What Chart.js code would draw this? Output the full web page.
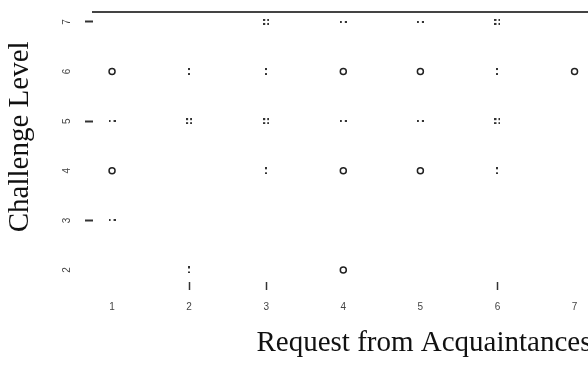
<!DOCTYPE html>
<html>
<head>
<meta charset="utf-8">
<script src="https://cdn.jsdelivr.net/npm/chart.js@4.4.0/dist/chart.umd.min.js"></script>
<style>
html, body { margin: 0; padding: 0; background: #fff; overflow: hidden; }
#wrap { width: 597px; height: 368px; }
</style>
</head>
<body>
<div id="wrap"><canvas id="chart"></canvas></div>
<script>
const requestLevels = [1, 2, 3, 4, 5, 6, 7];
const challengeLevels = [2, 3, 4, 5, 6, 7];
const xMarkedTicks = [2, 3, 6];
const yMarkedTicks = [3, 5, 7];

// single observation (ring)
const ringX = [1, 4, 5, 7, 1, 4, 5, 4];
const ringY = [6, 6, 6, 6, 4, 4, 4, 2];
// two dots stacked
const colonX = [2, 3, 6, 3, 6, 2];
const colonY = [6, 6, 6, 4, 4, 2];
// two dots side by side
const pairX = [4, 5, 1, 4, 5, 1];
const pairY = [7, 7, 5, 5, 5, 3];
// four dots
const quadX = [3, 6, 2, 3, 6];
const quadY = [7, 7, 5, 5, 5];

function toPoints(xs, ys) {
    return xs.map((x, i) => ({x: x, y: ys[i]}));
}

function dots(w, h, pts) {
    let c = document.createElement("canvas");
    c.width = w;
    c.height = h;
    let g = c.getContext("2d");
    g.fillStyle = "#333";
    for (let p of pts) {
        g.fillRect(p[0], p[1], 2, 2);
    }
    return c;
}

const colonGlyph = dots(2, 7, [[0, 0], [0, 5]]);
const pairGlyph = dots(7, 2, [[0, 0], [5, 0]]);
const quadGlyph = dots(6, 6, [[0, 0], [4, 0], [0, 4], [4, 4]]);

const xMin = 0.753, xMax = 7.22;
const yMin = 1.758, yMax = 7.2;

function marked(list) {
    return ctx => (ctx.tick && list.includes(ctx.tick.value)) ? "#333" : "rgba(0,0,0,0)";
}

const tickFont = {family: "'Liberation Sans', Arial, sans-serif", size: 10};
const titleFont = {family: "'Liberation Serif', 'Times New Roman', serif", size: 29};

const data = {
    datasets: [
        {
            data: toPoints(ringX, ringY),
            pointStyle: "circle",
            pointRadius: 3,
            pointBorderWidth: 1.5,
            borderColor: "#222",
            backgroundColor: "#fff"
        },
        {data: toPoints(colonX, colonY), pointStyle: colonGlyph, pointRadius: 3},
        {data: toPoints(pairX, pairY), pointStyle: pairGlyph, pointRadius: 3},
        {data: toPoints(quadX, quadY), pointStyle: quadGlyph, pointRadius: 3}
    ]
};

const config = {
    type: "scatter",
    data: data,
    options: {
        responsive: true,
        maintainAspectRatio: false,
        animation: false,
        layout: {padding: {top: 12, right: 0, bottom: 0, left: 0}},
        plugins: {legend: {display: false}, tooltip: {enabled: false}},
        scales: {
            x: {
                type: "linear",
                min: xMin,
                max: xMax,
                afterBuildTicks: s => { s.ticks = requestLevels.map(v => ({value: v})); },
                afterFit: s => { s.height = 86; s.paddingLeft = 0; s.paddingRight = 0; },
                ticks: {font: tickFont, color: "#444", padding: 11},
                grid: {drawOnChartArea: false, tickLength: 8, tickWidth: 1.5, tickColor: marked(xMarkedTicks)},
                border: {display: false},
                title: {
                    display: true,
                    text: "Request from Acquaintances",
                    align: "end",
                    font: titleFont,
                    color: "#111",
                    padding: {top: 0, bottom: 7}
                }
            },
            x2: {
                type: "linear",
                position: "top",
                min: xMin,
                max: xMax,
                afterFit: s => { s.height = 0; s.paddingLeft = 0; s.paddingRight = 0; },
                ticks: {display: false},
                grid: {drawOnChartArea: false, drawTicks: false},
                border: {display: true, color: "#444", width: 2}
            },
            y: {
                type: "linear",
                min: yMin,
                max: yMax,
                afterBuildTicks: s => { s.ticks = challengeLevels.map(v => ({value: v})); },
                afterFit: s => { s.width = 93; s.paddingTop = 0; s.paddingBottom = 0; },
                ticks: {font: tickFont, color: "#444", padding: 15, minRotation: 90, maxRotation: 90, crossAlign: "center"},
                grid: {drawOnChartArea: false, tickLength: 8, tickWidth: 2, tickColor: marked(yMarkedTicks)},
                border: {display: false},
                title: {
                    display: true,
                    text: "\u2002\u2009Challenge Level",
                    font: titleFont,
                    color: "#111",
                    padding: {top: 3, bottom: 0}
                }
            }
        }
    }
};

let myChart = new Chart(document.getElementById("chart"), config);
</script>
</body>
</html>
